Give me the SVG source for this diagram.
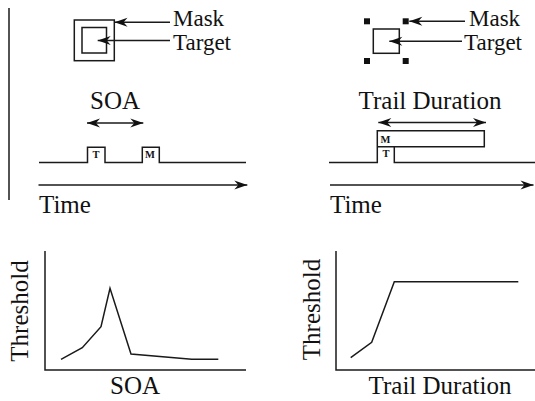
<svg xmlns="http://www.w3.org/2000/svg" width="535" height="401" viewBox="0 0 535 401">
<style>
.ln{fill:none;stroke:#1a1a1a;stroke-width:1.5}
.t{font-family:"Liberation Serif","Times New Roman",serif;font-size:25px;fill:#111}
.lb{font-family:"Liberation Serif","Times New Roman",serif;font-size:23px;fill:#111}
.s{font-family:"Liberation Serif","Times New Roman",serif;font-size:10.5px;font-weight:bold;fill:#111}
.dot{fill:#111}
</style>
<defs>
<marker id="ah" viewBox="-14 -6 15 12" refX="0" refY="0" markerWidth="15" markerHeight="12" markerUnits="userSpaceOnUse" orient="auto-start-reverse">
<path d="M0,0 L-13,-4.5 L-9,0 L-13,4.5 Z" fill="#111"/>
</marker>
</defs>
<rect width="535" height="401" fill="#fff"/>
<g id="divider"><line class="ln" x1="9" y1="8" x2="9" y2="200"/></g>

<g id="left-stimulus">
<rect class="ln" x="74.3" y="20" width="40" height="40.7"/>
<rect class="ln" x="82" y="27.5" width="24.5" height="25.5"/>
</g>
<g id="left-mask-label"><text class="lb" x="173" y="26">Mask</text></g>
<g id="left-target-label"><text class="lb" x="173" y="50">Target</text></g>

<g id="right-stimulus">
<rect class="dot" x="364" y="18.3" width="6" height="6"/>
<rect class="dot" x="402.7" y="18.3" width="6" height="6"/>
<rect class="dot" x="364" y="58" width="6" height="6"/>
<rect class="dot" x="402.7" y="58" width="6" height="6"/>
<rect class="ln" x="373.3" y="29" width="26" height="24.3"/>
</g>
<g id="right-mask-label"><text class="lb" x="469" y="26">Mask</text></g>
<g id="right-target-label"><text class="lb" x="464" y="50">Target</text></g>

<g id="left-timeline">
<text class="t" x="115" y="109" text-anchor="middle">SOA</text>
<path class="ln" d="M39,162.5 H87.5 V147.3 H105 V162.5 H142.3 V147.3 H159.3 V162.5 H246"/>
<text class="s" x="92.5" y="158.3">T</text>
<text class="s" x="145" y="158.3">M</text>
<text class="t" x="39" y="212.5">Time</text>
</g>

<g id="right-timeline">
<text class="t" x="430" y="109" text-anchor="middle">Trail Duration</text>
<path class="ln" d="M329,162.5 H377.3 V130.7 H484.3 V146.7 H377.3"/>
<path class="ln" d="M394.3,146.7 V162.5 H535"/>
<text class="s" x="380.5" y="142.5">M</text>
<text class="s" x="382.5" y="156.7">T</text>
<text class="t" x="330" y="212.5">Time</text>
</g>

<g id="left-graph">
<path class="ln" d="M45,251 V370 H246"/>
<polyline class="ln" points="61,359.3 82.3,347.7 101,326.7 110,288.3 131,354 191.7,359.3 218.3,359.3"/>
<text class="t" transform="translate(28,311) rotate(-90)" text-anchor="middle">Threshold</text>
<text class="t" x="135" y="394" text-anchor="middle">SOA</text>
</g>

<g id="right-graph">
<path class="ln" d="M336,251 V370 H535"/>
<polyline class="ln" points="350.7,357.7 371.7,342.3 394.3,281.7 518.3,281.7"/>
<text class="t" transform="translate(319.5,309.5) rotate(-90)" text-anchor="middle">Threshold</text>
<text class="t" x="440" y="394" text-anchor="middle">Trail Duration</text>
</g>

<g id="connectors">
<line class="ln" x1="170" y1="22.3" x2="114.5" y2="22.3" marker-end="url(#ah)"/>
<line class="ln" x1="170" y1="40.5" x2="97.7" y2="40.5" marker-end="url(#ah)"/>
<line class="ln" x1="465" y1="21.3" x2="409.3" y2="21.3" marker-end="url(#ah)"/>
<line class="ln" x1="462" y1="41.3" x2="389.3" y2="41.3" marker-end="url(#ah)"/>
<line class="ln" x1="87" y1="123" x2="143.3" y2="123" marker-start="url(#ah)" marker-end="url(#ah)"/>
<line class="ln" x1="378.3" y1="122.5" x2="486" y2="122.5" marker-start="url(#ah)" marker-end="url(#ah)"/>
<line class="ln" x1="38.5" y1="185" x2="247.3" y2="185" marker-end="url(#ah)"/>
<line class="ln" x1="330" y1="185" x2="533.5" y2="185" marker-end="url(#ah)"/>
</g>
</svg>
